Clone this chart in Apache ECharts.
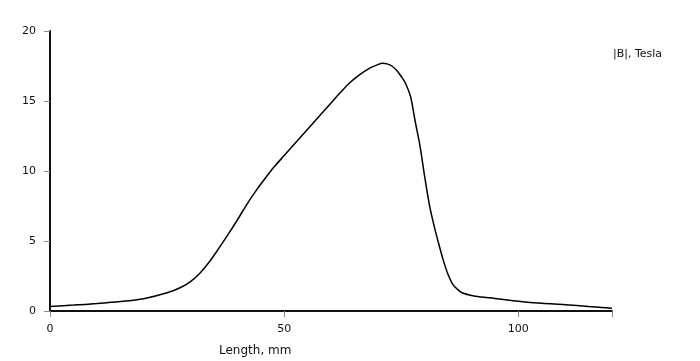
<!DOCTYPE html>
<html>
<head>
<meta charset="utf-8">
<script src="https://cdn.jsdelivr.net/npm/echarts@6/dist/echarts.min.js"></script>
<style>
html,body{margin:0;padding:0;background:#fff;}
#chart{width:700px;height:361px;}
</style>
</head>
<body>
<div id="chart"></div>
<script>
const seriesName = "|B|, Tesla";
const xTitle = "Length, mm";
const lengthMm = [0,5,10,15,20,25,28,30,32,34,36,38,40,42,44,46,48,50,52,54,56,58,60,62,64,66,68,70,71,72,73,74,75,76,77,78,79,80,81,82,83,84,85,86,87,88,90,92,95,100,105,110,115,120];
const fieldB = [0.33,0.42,0.53,0.67,0.88,1.3,1.7,2.1,2.7,3.5,4.45,5.45,6.5,7.6,8.6,9.5,10.35,11.1,11.85,12.6,13.35,14.1,14.85,15.6,16.3,16.85,17.3,17.6,17.7,17.65,17.5,17.2,16.75,16.2,15.3,13.5,11.8,9.6,7.6,6.1,4.8,3.6,2.6,1.9,1.55,1.3,1.1,1.0,0.9,0.7,0.55,0.45,0.32,0.2];
const xTicks = [0,50,100];
const yTicks = [0,5,10,15,20];

const font = "DejaVu Sans";
const chart = echarts.init(document.getElementById('chart'), null, {renderer:'canvas'});
chart.setOption({
  animation:false,
  backgroundColor:'#fff',
  grid:{left:50,right:88,top:31,bottom:50,containLabel:false},
  legend:{
    data:[{name:seriesName,icon:'none'}],
    left:603, top:42, itemWidth:0, itemGap:0,
    textStyle:{fontFamily:font,fontSize:11,color:'#111'}
  },
  xAxis:{
    type:'value', min:0, max:120, interval:50,
    axisLine:{lineStyle:{color:'#111',width:2}},
    axisTick:{show:true,length:6,lineStyle:{color:'#888'}},
    axisLabel:{fontFamily:font,fontSize:11,color:'#111',margin:13,
      formatter:v=>xTicks.includes(v)?String(v):''},
    splitLine:{show:false}
  },
  yAxis:{
    type:'value', min:0, max:20, interval:5,
    axisLine:{show:true,lineStyle:{color:'#111',width:2}},
    axisTick:{show:true,length:6,lineStyle:{color:'#888'}},
    axisLabel:{fontFamily:font,fontSize:11,color:'#111',margin:14,
      formatter:v=>yTicks.includes(v)?String(v):''},
    splitLine:{show:false}
  },
  graphic:[{
    type:'text', left:219, top:345,
    style:{text:xTitle, font:'12px "DejaVu Sans"', fill:'#111'}
  }],
  series:[{
    name:seriesName, type:'line', smooth:0.3, showSymbol:false,
    lineStyle:{color:'#000',width:1.5},
    itemStyle:{color:'#000'},
    data:lengthMm.map((x,i)=>[x,fieldB[i]])
  }]
});
</script>
</body>
</html>
